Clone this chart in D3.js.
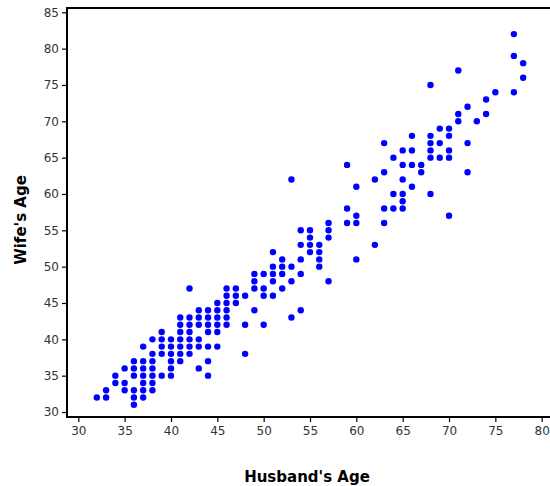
<!doctype html>
<html>
<head>
<meta charset="utf-8"/>
<title>Husband's vs Wife's Age</title>
<script src="https://d3js.org/d3.v7.min.js"></script>
<style>
body { margin:0; background:#fff; }
svg text { font-family:"DejaVu Sans", sans-serif; }
</style>
</head>
<body>
<script>
// ages, one entry per couple
var husbandAge = [32,33,33,34,34,35,35,35,36,36,36,36,36,36,37,37,37,37,37,37,37,
  38,38,38,38,38,38,38,39,39,39,39,39,
  40,40,40,40,40,40,41,41,41,41,41,41,41,42,42,42,42,42,42,42,
  43,43,43,43,43,43,44,44,44,44,44,44,44,45,45,45,45,45,45,
  46,46,46,46,46,46,47,47,47,48,48,48,49,49,49,49,50,50,50,50,
  51,51,51,51,51,52,52,52,52,53,53,53,53,54,54,54,54,54,55,55,55,55,
  56,56,56,56,57,57,57,57,59,59,59,60,60,60,60,62,62,63,63,63,63,
  64,64,64,65,65,65,65,65,65,66,66,66,66,67,67,68,68,68,68,68,68,
  69,69,69,70,70,70,70,70,71,71,71,72,72,72,73,74,74,75,77,77,77,78,78];
var wifeAge = [32,32,33,35,34,36,34,33,37,36,35,33,32,31,39,37,36,35,34,33,32,
  40,38,37,36,35,34,33,41,40,39,38,35,
  40,39,38,37,36,35,43,42,41,40,39,38,37,47,43,42,41,40,39,38,
  44,43,42,40,39,36,44,43,42,41,39,37,35,45,44,43,42,41,39,
  47,46,45,44,43,42,47,46,45,46,42,38,49,48,47,44,49,47,46,42,
  52,50,49,48,46,51,50,49,47,62,50,48,43,55,53,51,49,44,55,54,53,52,
  53,52,51,50,56,55,54,48,64,58,56,61,57,56,51,62,53,67,63,58,56,
  65,60,58,66,64,62,60,59,58,68,66,64,61,64,63,75,68,67,66,65,60,
  69,67,65,69,68,66,65,57,77,71,70,72,67,63,70,73,71,74,82,79,74,78,76];
var xTicks = [30,35,40,45,50,55,60,65,70,75,80];
var yTicks = [30,35,40,45,50,55,60,65,70,75,80,85];

var W = 550, H = 486;
var plotL = 67, plotT = 8, plotR = 551, plotB = 417;

var svg = d3.select("body").append("svg")
  .attr("width", W).attr("height", H);

var x = d3.scaleLinear().domain([30, 80]).range([78.3, 541.7]);
var y = d3.scaleLinear().domain([30, 85]).range([412, 12.3]);

// frame: top line, left axis line, bottom axis line
svg.append("path")
  .attr("d", "M" + plotR + "," + plotT + "H" + plotL + "V" + plotB + "H" + plotR)
  .attr("fill", "none").attr("stroke", "#000").attr("stroke-width", 2);

var xAxis = svg.append("g")
  .attr("transform", "translate(0," + plotB + ")")
  .call(d3.axisBottom(x).tickValues(xTicks).tickSize(5).tickPadding(4));
var yAxis = svg.append("g")
  .attr("transform", "translate(" + plotL + ",0)")
  .call(d3.axisLeft(y).tickValues(yTicks).tickSize(5).tickPadding(3));

[xAxis, yAxis].forEach(function(g){
  g.select(".domain").remove();
  g.selectAll(".tick line").attr("stroke", "#000").attr("stroke-width", 1.2);
  g.selectAll(".tick text").attr("fill", "#333").style("font-size", "12px")
    .style("font-family", "'DejaVu Sans', sans-serif");
});

svg.append("g").selectAll("circle")
  .data(husbandAge)
  .enter()
  .append("circle")
  .attr("cx", function(d){ return x(d); })
  .attr("cy", function(d, i){ return y(wifeAge[i]); })
  .attr("r", 3.2)
  .attr("fill", "#0000ff");

svg.append("text")
  .attr("x", 307).attr("y", 482)
  .attr("text-anchor", "middle")
  .style("font-size", "15px").style("font-weight", "bold")
  .text("Husband's Age");

svg.append("text")
  .attr("transform", "translate(26,220) rotate(-90)")
  .attr("text-anchor", "middle")
  .style("font-size", "15px").style("font-weight", "bold")
  .text("Wife's Age");
</script>
</body>
</html>
